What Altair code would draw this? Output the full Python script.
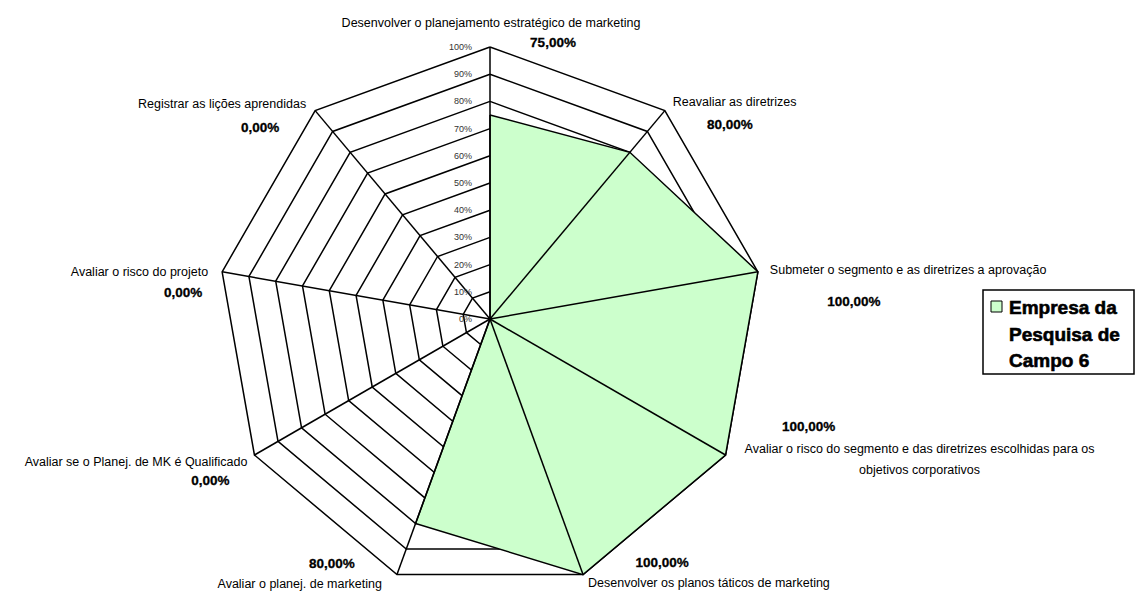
import math

import altair as alt
import pandas as pd

# ---- data -------------------------------------------------------------
categories = [
    "Desenvolver o planejamento estratégico de marketing",
    "Reavaliar as diretrizes",
    "Submeter o segmento e as diretrizes a aprovação",
    "Avaliar o risco do segmento e das diretrizes escolhidas para os\nobjetivos corporativos",
    "Desenvolver os planos táticos de marketing",
    "Avaliar o planej. de marketing",
    "Avaliar se o Planej. de MK é Qualificado",
    "Avaliar o risco do projeto",
    "Registrar as lições aprendidas",
]
values = [75, 80, 100, 100, 100, 80, 0, 0, 0]
series_name = "Empresa da Pesquisa de Campo 6"
legend_lines = ["Empresa da", "Pesquisa de", "Campo 6"]
tick_values = [0, 10, 20, 30, 40, 50, 60, 70, 80, 90, 100]
tick_labels = ["0%", "10%", "20%", "30%", "40%", "50%", "60%", "70%", "80%", "90%", "100%"]

# ---- layout -----------------------------------------------------------
W, H = 1138, 591
CX, CY, RPX = 490, 319, 272      # centre of the web and pixel length of the 100% spoke
PX = 100 / RPX                   # value units per pixel
FILL = "#CCFFCC"
FONT = "Liberation Sans"
LINE_W = 1.5

# pixel nudges of the axis names from the 100% vertex: (dx, dy, align)
name_layout = [
    (1, -24, "center"),
    (8, -9, "left"),
    (12, -2, "left"),
    (194, -6, "center"),
    (5, 8.5, "left"),
    (-15, 9.5, "right"),
    (-7, 7, "right"),
    (-14, 0, "right"),
    (-9, -6.5, "right"),
]
# pixel nudges of the value labels from the 100% vertex
value_layout = [
    (63, -4), (65, 14), (96, 30), (83, -28), (79, -11.5),
    (-65, -10.5), (-44, 26), (-39, 21), (-55, 17),
]
NAME_LINE_H = 21

N = len(categories)


def polar(r, i):
    a = 2 * math.pi * i / N
    return r * math.sin(a), r * math.cos(a)


def pct(v):
    return f"{v:.2f}".replace(".", ",") + "%"


# ---- tables -----------------------------------------------------------
ring_rows = []
for r in tick_values[1:]:
    for k in range(N + 1):
        x, y = polar(r, k % N)
        ring_rows.append({"ring": r, "k": k, "x": x, "y": y})
rings = pd.DataFrame(ring_rows)

poly_rows = []
for k in range(N + 1):
    x, y = polar(values[k % N], k % N)
    poly_rows.append({"k": k, "x": x, "y": y, "series": series_name})
poly = pd.DataFrame(poly_rows)

spokes = pd.DataFrame(
    [{"x": 0.0, "y": 0.0, "x2": polar(100, i)[0], "y2": polar(100, i)[1]} for i in range(N)]
)

ticks = pd.DataFrame({"x": [0.0] * len(tick_values), "y": tick_values, "label": tick_labels})

name_rows = []
for i, name in enumerate(categories):
    vx, vy = polar(100, i)
    dx, dy, align = name_layout[i]
    for j, line in enumerate(name.split("\n")):
        name_rows.append({
            "text": line,
            "align": align,
            "x": vx + dx * PX,
            "y": vy - (dy + j * NAME_LINE_H) * PX,
        })
names = pd.DataFrame(name_rows)

value_rows = []
for i, v in enumerate(values):
    vx, vy = polar(100, i)
    dx, dy = value_layout[i]
    value_rows.append({"text": pct(v), "x": vx + dx * PX, "y": vy - dy * PX})
value_labels = pd.DataFrame(value_rows)

legend_data = pd.DataFrame({"series": [series_name]})

# ---- scales -----------------------------------------------------------
xs = alt.Scale(domain=[-CX * PX, (W - CX) * PX], nice=False, zero=False)
ys = alt.Scale(domain=[-(H - CY) * PX, CY * PX], nice=False, zero=False)
X = alt.X("x:Q", scale=xs, axis=None)
Y = alt.Y("y:Q", scale=ys, axis=None)

# ---- layers -----------------------------------------------------------
grid = alt.Chart(rings).mark_line(color="black", strokeWidth=LINE_W).encode(
    x=X, y=Y, detail="ring:N", order="k:Q"
)

area = alt.Chart(poly).mark_line(
    fill=FILL, stroke="black", strokeWidth=LINE_W, strokeJoin="miter"
).encode(x=X, y=Y, order="k:Q")

spoke = alt.Chart(spokes).mark_rule(color="black", strokeWidth=LINE_W).encode(
    x=X, y=Y, x2="x2:Q", y2="y2:Q"
)

tick_text = alt.Chart(ticks).mark_text(
    align="right", baseline="middle", dx=-18, fontSize=9, font=FONT, color="#333333"
).encode(x=X, y=Y, text="label:N")

name_layers = [
    alt.Chart(names[names["align"] == al]).mark_text(
        align=al, baseline="middle", fontSize=12.5, font=FONT, color="black"
    ).encode(x=X, y=Y, text="text:N")
    for al in ["left", "center", "right"]
]

value_text = alt.Chart(value_labels).mark_text(
    align="center", baseline="middle", fontSize=13.5, fontWeight="bold", font=FONT,
    color="black", stroke="black", strokeWidth=0.3,
).encode(x=X, y=Y, text="text:N")

# legend box drawn beside the web
legend_box = alt.Chart(legend_data).mark_rect(
    fill="white", stroke="black", strokeWidth=1.5
).encode(x=alt.value(983), x2=alt.value(1134), y=alt.value(290), y2=alt.value(374))

legend_swatch = alt.Chart(legend_data).mark_rect(
    fill=FILL, stroke="black", strokeWidth=1
).encode(x=alt.value(991), x2=alt.value(1002), y=alt.value(301), y2=alt.value(312))

legend_text = alt.Chart(legend_data).mark_text(
    align="left", baseline="top", fontSize=19, fontWeight="bold", font=FONT,
    color="black", stroke="black", strokeWidth=0.6, lineBreak="\n", lineHeight=26.5,
).encode(x=alt.value(1009), y=alt.value(299), text=alt.value("\n".join(legend_lines)))

chart = alt.layer(
    grid, area, spoke, tick_text, *name_layers, value_text,
    legend_box, legend_swatch, legend_text,
).properties(
    width=W, height=H, padding=0, autosize=alt.AutoSizeParams(type="none"),
    background="white",
).configure_view(stroke=None)

chart.save("out.html", embed_options={"renderer": "svg", "actions": False})
